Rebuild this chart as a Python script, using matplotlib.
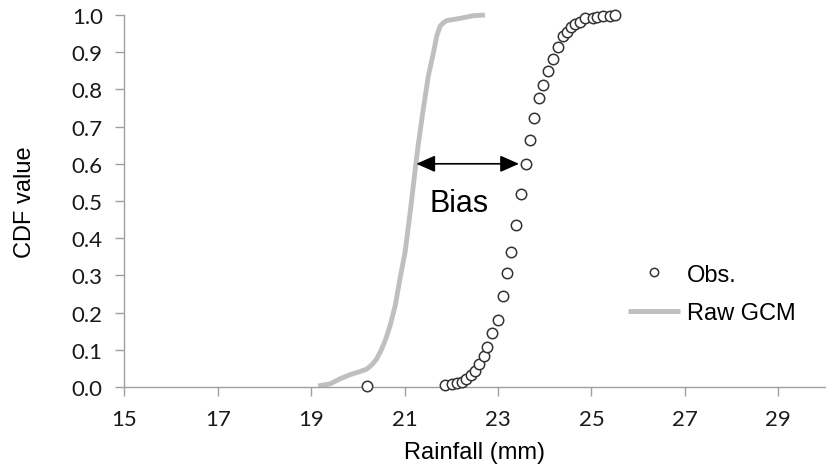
import matplotlib
matplotlib.use('Agg')
import matplotlib.pyplot as plt

obs_x = [20.19, 21.87, 22.01, 22.12, 22.22, 22.32, 22.42, 22.51, 22.60, 22.69,
         22.77, 22.88, 23.00, 23.10, 23.20, 23.27, 23.39, 23.49, 23.59, 23.69,
         23.77, 23.88, 23.97, 24.08, 24.17, 24.28, 24.39, 24.47, 24.56, 24.65,
         24.76, 24.86, 25.03, 25.11, 25.25, 25.40, 25.50]
obs_cdf = [0.004, 0.005, 0.008, 0.011, 0.014, 0.022, 0.032, 0.044, 0.062, 0.083,
           0.107, 0.144, 0.181, 0.245, 0.306, 0.364, 0.435, 0.520, 0.600, 0.665,
           0.722, 0.778, 0.812, 0.850, 0.882, 0.915, 0.944, 0.953, 0.967, 0.976,
           0.980, 0.991, 0.992, 0.994, 0.996, 0.998, 1.000]

# raw GCM CDF
gcm_x = [19.15, 19.40, 19.62, 19.83, 20.08, 20.19, 20.30, 20.40, 20.51, 20.60,
         20.69, 20.80, 20.90, 21.01, 21.12, 21.22, 21.29, 21.40, 21.51, 21.62,
         21.69, 21.76, 21.82, 21.90, 22.05, 22.19, 22.35, 22.47, 22.72]
gcm_cdf = [0.003, 0.008, 0.022, 0.033, 0.043, 0.048, 0.060, 0.075, 0.102, 0.130,
           0.165, 0.219, 0.290, 0.362, 0.470, 0.577, 0.649, 0.747, 0.837, 0.900,
           0.944, 0.970, 0.978, 0.985, 0.988, 0.991, 0.995, 0.998, 1.000]

x_ticks = [15, 17, 19, 21, 23, 25, 27, 29]
y_ticks = [0.0, 0.1, 0.2, 0.3, 0.4, 0.5, 0.6, 0.7, 0.8, 0.9, 1.0]

# bias arrow between the two curves at CDF = 0.6
bias_level = 0.6
bias_from = 21.25
bias_to = 23.45

W, H = 827, 477
fig = plt.figure(figsize=(W / 100, H / 100), dpi=100)
ax = fig.add_axes([124.3 / W, (H - 388) / H, (825 - 124.3) / W, (388 - 16) / H])

ax.plot(gcm_x, gcm_cdf, color='#BFBFBF', lw=3.5, solid_capstyle='butt',
        label='Raw GCM', zorder=2, clip_on=False)
ax.plot(obs_x, obs_cdf, ls='none', marker='o', ms=7.5, mfc='white', mec='#333333',
        mew=1.1, label='Obs.', zorder=3, clip_on=False)

ax.annotate('', xy=(bias_from, bias_level), xytext=(bias_to, bias_level),
            arrowprops=dict(arrowstyle='<|-|>,head_length=0.5,head_width=0.22',
                            color='black', lw=1.2, mutation_scale=23,
                            shrinkA=0, shrinkB=0))
ax.text(22.17, 0.495, 'Bias', fontsize=22, ha='center', va='center',
        family='Liberation Sans')

ax.set_xlim(15, 30)
ax.set_ylim(0, 1)
ax.set_xticks(x_ticks)
ax.set_yticks(y_ticks)
ax.set_yticklabels(['%.1f' % v for v in y_ticks])

for s in ['top', 'right']:
    ax.spines[s].set_visible(False)
for s in ['left', 'bottom']:
    ax.spines[s].set_color('#A0A0A0')
    ax.spines[s].set_linewidth(1)

ax.tick_params(axis='both', color='#A0A0A0', width=1, length=6.5,
               labelsize=16, labelcolor='#1a1a1a')
ax.tick_params(axis='y', pad=9)
ax.tick_params(axis='x', pad=9)
for lab in ax.get_xticklabels() + ax.get_yticklabels():
    lab.set_family('Lato')

ax.set_xlabel('Rainfall (mm)', fontsize=17, family='Liberation Sans', labelpad=9)
ax.set_ylabel('CDF value', fontsize=17, family='Liberation Sans', labelpad=26)

handles, labels = ax.get_legend_handles_labels()
leg = ax.legend(handles[::-1], labels[::-1], loc='center left',
                bbox_to_anchor=(628 / W, 1 - 295 / H), bbox_transform=fig.transFigure,
                frameon=False, borderpad=0, borderaxespad=0, handlelength=2.2,
                handletextpad=0.3, labelspacing=0.7, markerscale=0.8,
                prop={'family': 'Liberation Sans', 'size': 17})

fig.savefig('out.png', dpi=100)
